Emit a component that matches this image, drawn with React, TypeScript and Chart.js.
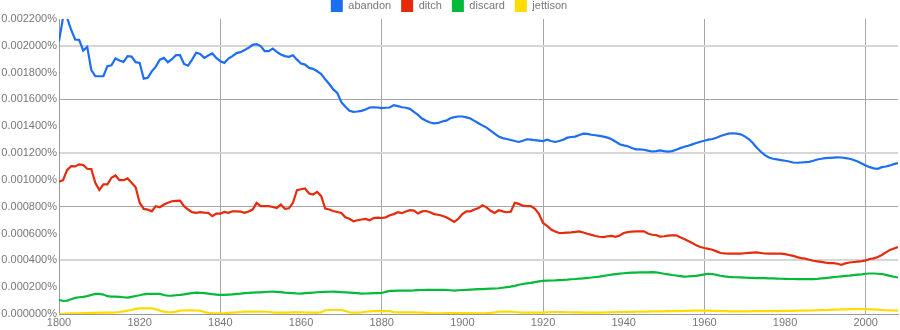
import React, { useEffect, useRef } from "react";
import { Chart, registerables } from "chart.js";

Chart.register(...registerables);

// values in units of 0.000001 %
const seriesNames = ["abandon", "ditch", "discard", "jettison"];
const seriesColors = ["#1c6ef2", "#e52b0c", "#05b93a", "#ffdc00"];
const startYear = 1800;
const endYear = 2008;
const xTickYears = [1800, 1820, 1840, 1860, 1880, 1900, 1920, 1940, 1960, 1980, 2000];

const abandon = [
  2035, 2210, 2210, 2120, 2047, 2045, 1965, 1992, 1820, 1773,
  1773, 1773, 1848, 1855, 1905, 1890, 1880, 1923, 1920, 1878,
  1873, 1755, 1762, 1810, 1845, 1897, 1910, 1878, 1900, 1930,
  1930, 1865, 1852, 1897, 1948, 1940, 1910, 1928, 1943, 1910,
  1885, 1873, 1905, 1923, 1946, 1953, 1968, 1985, 2007, 2012,
  1998, 1960, 1960, 1980, 1955, 1935, 1923, 1918, 1930, 1897,
  1868, 1860, 1835, 1828, 1810, 1790, 1750, 1715, 1675, 1648,
  1580, 1545, 1515, 1508, 1510, 1515, 1525, 1540, 1542, 1540,
  1535, 1538, 1540, 1558, 1550, 1542, 1538, 1530, 1508, 1485,
  1458, 1442, 1428, 1422, 1425, 1436, 1442, 1460, 1468, 1473,
  1473, 1466, 1458, 1440, 1423, 1405, 1390, 1368, 1345, 1323,
  1312, 1305, 1298, 1290, 1283, 1292, 1303, 1300, 1296, 1293,
  1290, 1300, 1290, 1283, 1290, 1300, 1315, 1320, 1323, 1335,
  1345, 1343, 1337, 1333, 1328, 1323, 1315, 1303, 1285, 1266,
  1258, 1251, 1238, 1228, 1228, 1225, 1218, 1212, 1215, 1220,
  1215, 1211, 1215, 1225, 1237, 1247, 1255, 1265, 1275, 1285,
  1292, 1300, 1305, 1315, 1327, 1337, 1345, 1348, 1345, 1340,
  1325, 1305, 1275, 1240, 1210, 1185, 1167, 1158, 1153, 1148,
  1143, 1137, 1130, 1128, 1130, 1132, 1135, 1143, 1152, 1158,
  1162, 1164, 1166, 1168, 1167, 1163, 1158, 1148, 1138, 1122,
  1108, 1095, 1086, 1083, 1095, 1100, 1108, 1118, 1125,
];

const ditch = [
  986, 998, 1073, 1103, 1101, 1116, 1111, 1083, 1081, 979,
  925, 966, 966, 1016, 1033, 998, 998, 1011, 979, 945,
  830, 784, 779, 766, 804, 796, 816, 830, 841, 844,
  846, 804, 779, 760, 754, 759, 756, 754, 729, 749,
  749, 761, 754, 766, 765, 764, 754, 765, 779, 829,
  804, 804, 804, 798, 791, 816, 784, 788, 829, 924,
  930, 936, 899, 891, 911, 879, 786, 779, 768, 761,
  754, 721, 710, 691, 699, 705, 709, 699, 715, 718,
  716, 721, 736, 745, 759, 752, 765, 774, 771, 749,
  765, 768, 759, 745, 740, 733, 722, 705, 687, 710,
  745, 766, 766, 779, 790, 811, 795, 770, 754, 774,
  765, 759, 762, 829, 821, 808, 804, 804, 784, 745,
  679, 658, 630, 615, 604, 605, 607, 609, 612, 616,
  608, 598, 590, 582, 576, 574, 580, 582, 576, 586,
  604, 610, 615, 616, 616, 616, 600, 591, 589, 577,
  580, 584, 586, 587, 572, 559, 545, 530, 512, 500,
  492, 486, 479, 467, 455, 452, 450, 450, 450, 450,
  453, 456, 458, 459, 455, 451, 450, 450, 450, 450,
  446, 440, 434, 424, 417, 413, 405, 397, 393, 389,
  383, 380, 380, 375, 367, 378, 384, 388, 391, 394,
  400, 410, 415, 425, 440, 460, 478, 488, 500,
];

const discard = [
  105, 97, 100, 110, 120, 125, 128, 133, 142, 150,
  150, 145, 133, 130, 130, 128, 125, 122, 128, 134,
  140, 147, 150, 150, 150, 150, 142, 136, 137, 140,
  143, 147, 152, 156, 160, 158, 155, 152, 148, 145,
  142, 143, 145, 147, 150, 152, 155, 157, 160, 161,
  162, 164, 166, 167, 165, 163, 160, 158, 156, 153,
  152, 155, 158, 160, 162, 164, 165, 166, 167, 165,
  163, 162, 160, 158, 155, 152, 153, 154, 155, 156,
  157, 165, 172, 173, 174, 174, 175, 175, 176, 178,
  179, 180, 180, 180, 180, 180, 179, 177, 175, 177,
  179, 180, 182, 184, 185, 186, 188, 189, 190, 192,
  196, 200, 204, 210, 218, 224, 228, 232, 238, 243,
  247, 249, 250, 251, 253, 254, 256, 259, 261, 264,
  266, 269, 272, 276, 279, 284, 289, 293, 297, 301,
  304, 306, 308, 309, 310, 311, 311, 312, 310, 306,
  300, 296, 291, 287, 283, 279, 280, 282, 284, 290,
  296, 300, 298, 292, 285, 280, 277, 275, 274, 273,
  272, 270, 269, 268, 267, 267, 266, 265, 264, 263,
  262, 261, 261, 260, 260, 260, 260, 260, 262, 265,
  268, 271, 275, 278, 281, 284, 286, 290, 293, 296,
  300, 302, 302, 300, 298, 292, 284, 278, 272,
];

const jettison = [
  0, 2, 3, 4, 5, 5, 6, 7, 8, 9,
  10, 10, 10, 10, 12, 15, 20, 25, 30, 38,
  42, 42, 42, 42, 35, 25, 18, 14, 12, 18,
  25, 26, 27, 27, 26, 25, 15, 8, 6, 5,
  5, 6, 8, 10, 12, 15, 17, 17, 17, 17,
  17, 17, 15, 12, 10, 10, 11, 11, 12, 12,
  12, 11, 10, 10, 10, 12, 28, 30, 30, 30,
  30, 22, 12, 10, 10, 12, 17, 19, 21, 22,
  22, 22, 22, 13, 12, 12, 12, 12, 12, 11,
  10, 9, 6, 5, 5, 5, 6, 7, 7, 7,
  7, 6, 6, 5, 5, 5, 6, 8, 12, 17,
  17, 17, 17, 15, 12, 10, 10, 10, 10, 10,
  10, 12, 14, 15, 15, 14, 13, 12, 12, 12,
  11, 11, 10, 10, 10, 11, 12, 13, 14, 15,
  15, 16, 16, 17, 17, 18, 18, 19, 19, 20,
  20, 21, 21, 22, 22, 23, 24, 25, 25, 25,
  25, 25, 24, 23, 22, 21, 20, 20, 20, 20,
  20, 20, 21, 21, 21, 22, 22, 22, 22, 23,
  23, 24, 24, 25, 25, 25, 26, 27, 28, 29,
  30, 31, 32, 33, 34, 35, 36, 37, 37, 37,
  36, 35, 34, 32, 30, 28, 27, 26, 25,
];

const yMax = 0.0022;
const yStep = 0.0002;

const FONT = '"Liberation Sans", Arial, Helvetica, sans-serif';

export default function App() {
  const ref = useRef<HTMLCanvasElement | null>(null);

  useEffect(() => {
    document.body.style.margin = "0";
    const canvas = ref.current;
    if (!canvas) return;
    const allSeries = [abandon, ditch, discard, jettison];
    const datasets = allSeries.map((vals, si) => ({
      label: seriesNames[si],
      data: vals.map((v, i) => ({ x: startYear + i, y: v / 1e6 })),
      borderColor: seriesColors[si],
      backgroundColor: seriesColors[si],
      borderWidth: 2.2,
      pointRadius: 0,
      tension: 0,
      fill: false,
    }));

    const chart = new Chart(canvas, {
      type: "line",
      data: { datasets },
      options: {
        responsive: false,
        animation: false,
        events: [],
        layout: { padding: { top: -10, right: 2, left: 0, bottom: 0 } },
        plugins: {
          tooltip: { enabled: false },
          legend: {
            display: true,
            position: "top",
            labels: {
              boxWidth: 12,
              boxHeight: 12,
              padding: 10,
              color: "#777",
              font: { family: FONT, size: 11 },
              generateLabels: (c: any) => {
                const items = (Chart as any).defaults.plugins.legend.labels.generateLabels(c);
                return items.map((it: any) => ({ ...it, lineWidth: 0 }));
              },
            },
          },
        },
        scales: {
          x: {
            type: "linear",
            min: startYear,
            max: endYear,
            afterFit: (s: any) => {
              s.height = 16;
            },
            afterBuildTicks: (s: any) => {
              s.ticks = xTickYears.map((v) => ({ value: v }));
            },
            ticks: {
              autoSkip: false,
              maxRotation: 0,
              padding: 2,
              color: "#777",
              font: { family: FONT, size: 11 },
              callback: (v: any) => String(v),
            },
            grid: {
              drawTicks: false,
              color: (c: any) => {
                const v = c.tick ? c.tick.value : 0;
                return v % 40 === 0 && v !== startYear ? "#a6a6a6" : "rgba(0,0,0,0)";
              },
              lineWidth: 1,
            },
            border: { display: true, color: "#999", width: 1 },
          },
          y: {
            type: "linear",
            min: 0,
            max: yMax,
            afterFit: (s: any) => {
              s.width = 59;
            },
            ticks: {
              stepSize: yStep,
              padding: 2,
              color: "#777",
              font: { family: FONT, size: 11 },
              callback: (v: any) => Number(v).toFixed(6) + "%",
            },
            grid: {
              drawTicks: false,
              color: (c: any) => {
                const v = c.tick ? c.tick.value : 0;
                const k = Math.round(v / yStep);
                if (k === 0) return "#999";
                if (k % 4 === 2) return "#d6d6d6";
                if (k % 4 === 0) return "#a6a6a6";
                return "rgba(0,0,0,0)";
              },
              lineWidth: (c: any) => {
                const v = c.tick ? c.tick.value : 0;
                const k = Math.round(v / yStep);
                return k % 4 === 2 ? 2 : 1;
              },
            },
            border: { display: true, color: "#999", width: 1 },
          },
        },
      },
    } as any);

    const lg: any = (chart as any).legend;
    if (lg) {
      const origFit = lg.fit.bind(lg);
      lg.fit = function () {
        origFit();
        this.height = this.height - 3;
      };
      chart.update();
    }

    return () => chart.destroy();
  }, []);

  return (
    <div style={{ width: 900, height: 330 }}>
      <canvas ref={ref} width={900} height={330} style={{ display: "block" }} />
    </div>
  );
}
